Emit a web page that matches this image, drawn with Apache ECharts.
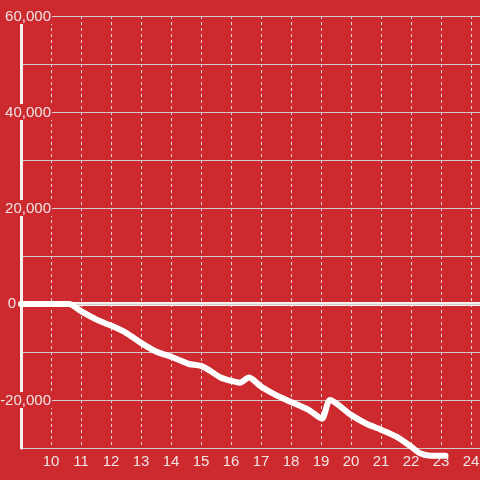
<!DOCTYPE html>
<html>
<head>
<meta charset="utf-8">
<style>html,body{margin:0;padding:0;background:#cc2a2f;}#c{width:480px;height:480px;}</style>
<script src="https://cdn.jsdelivr.net/npm/echarts@6/dist/echarts.min.js"></script>
</head>
<body>
<div id="c"></div>
<script>
// hour of day (x) and cumulative value (y)
var hours = [9.0, 10.6, 11.0, 11.5, 12.0, 12.5, 13.0, 13.5, 14.0, 14.4, 14.6, 15.0, 15.3, 15.65, 16.0, 16.3, 16.6, 17.0, 17.5, 18.0, 18.6, 19.03, 19.3, 20.0, 20.5, 21.0, 21.5, 22.0, 22.3, 22.65, 23.15];
var values = [0, 0, -1500, -3200, -4500, -6000, -8100, -9900, -11000, -12000, -12500, -12900, -13900, -15300, -16000, -16400, -15300, -17200, -19000, -20400, -22100, -23900, -20000, -23100, -24900, -26200, -27600, -29700, -31100, -31600, -31600];
var yTicks = [-20000, 0, 20000, 40000, 60000];

var BG = '#cc2a2f';
var TXT = '#f2e4e4';
var chart = echarts.init(document.getElementById('c'), null, {renderer: 'canvas'});
var data = hours.map(function (h, i) { return [h, values[i]]; });

chart.setOption({
  backgroundColor: BG,
  animation: false,
  grid: {left: 21, right: 0, top: 16, bottom: 32, containLabel: false, outerBoundsMode: 'none'},
  xAxis: {
    type: 'value', min: 9, max: 24.3, interval: 1,
    axisLine: {show: true, onZero: false, lineStyle: {color: '#cfcfcf', width: 1}},
    axisTick: {show: false},
    splitLine: {show: true, lineStyle: {color: '#e6d6d6', width: 1, type: [3, 3]}},
    axisLabel: {
      color: TXT, fontSize: 15, fontFamily: 'Liberation Sans', margin: 6,
      showMinLabel: false,
      formatter: function (v) { return v === 9 ? '' : String(v); }
    }
  },
  yAxis: {
    type: 'value', min: -30000, max: 60000, interval: 10000,
    axisLine: {show: true, lineStyle: {color: '#f4f0f0', width: 3}},
    axisTick: {show: false},
    splitLine: {show: true, lineStyle: {color: '#d0caca', width: 1}},
    z: 5,
    axisLabel: {
      margin: -31, fontSize: 15, fontFamily: 'Liberation Sans', color: TXT,
      formatter: function (v) {
        if (yTicks.indexOf(v) < 0) return '';
        if (v === 0) return '{z|0}';
        return '{b|' + v.toLocaleString('en-US') + '}';
      },
      rich: {
        b: {backgroundColor: BG, color: TXT, fontSize: 15, fontFamily: 'Liberation Sans', padding: [1, 1, 0, 1]},
        z: {color: TXT, fontSize: 15, fontFamily: 'Liberation Sans', padding: [0, 36, 0, 0]}
      }
    }
  },
  series: [{
    type: 'line',
    data: data,
    showSymbol: false,
    symbol: 'none',
    smooth: 0.25,
    clip: false,
    lineStyle: {color: '#ffffff', width: 6, cap: 'round', join: 'round'},
    z: 10,
    markLine: {
      silent: true, symbol: ['none', 'none'], label: {show: false},
      lineStyle: {color: '#f4f0f0', width: 4, type: 'solid'},
      data: [{yAxis: 0}],
      z: 3
    }
  }]
});
</script>
</body>
</html>
